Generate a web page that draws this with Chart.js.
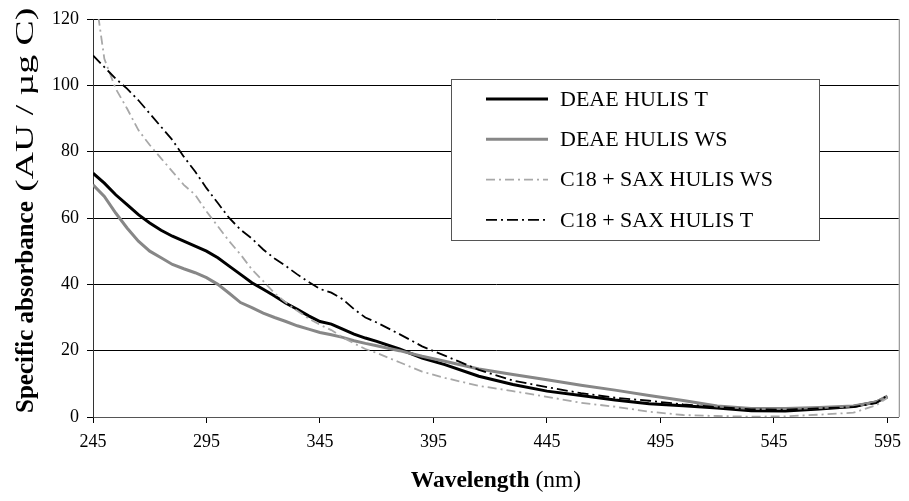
<!DOCTYPE html>
<html>
<head>
<meta charset="utf-8">
<script src="https://cdn.jsdelivr.net/npm/chart.js@4/dist/chart.umd.min.js"></script>
<style>
    html, body { margin: 0; padding: 0; background: #fff; }
    #wrap { width: 909px; height: 501px; position: relative; }
</style>
</head>
<body>
<div id="wrap"><canvas id="absorbance"></canvas></div>
<script>
// Wavelength grid (nm) shared by all four spectra
const wavelengths = [245, 250, 255, 260, 265, 270, 275, 280, 285, 290, 295, 300, 305, 310, 315, 320, 325, 330, 335, 340,
    345, 350, 355, 360, 365, 370, 380, 390, 400, 415, 430, 445, 460, 475, 490, 505, 520, 535, 550, 565, 580, 590, 595];

// Specific absorbance (AU / µg C)
const deaeT = [73.5, 70.5, 67, 64, 61, 58.5, 56.3, 54.5, 53, 51.5, 50, 48, 45.5, 43, 40.5, 38.5, 36.5, 34.3, 32.5, 30.5,
    28.8, 28, 26.5, 25, 23.8, 22.8, 20.5, 17.8, 15.8, 12.3, 9.8, 7.8, 6.5, 5.1, 4, 3.4, 2.7, 1.9, 1.8, 2.4, 3.2, 4.5, 6.1];
const deaeWS = [70, 66.5, 61.5, 57, 53, 50, 48, 46, 44.7, 43.5, 42, 40, 37.3, 34.5, 33, 31.3, 30, 28.8, 27.5, 26.5,
    25.5, 24.8, 24, 23, 22.2, 21.5, 20, 18.3, 16.8, 14.5, 12.8, 11.2, 9.6, 8.1, 6.5, 5, 3.3, 2.6, 2.6, 2.9, 3.3, 4.5, 6.3];
const saxWS = [132, 108, 99, 93, 86.5, 82, 78, 74, 70, 67, 62, 57.5, 53, 49, 44.5, 41, 37.3, 34.5, 32, 29.7,
    27.8, 26.2, 24, 22.2, 20.5, 19.3, 16.5, 13.7, 11.8, 9.4, 7.8, 6.1, 4.3, 3.1, 1.6, 0.6, 0.3, 0.1, 0.2, 0.7, 1.3, 3.5, 5.8];
const saxT = [109, 105.5, 102, 99, 95.5, 91.5, 87.5, 83.5, 78.5, 74, 69, 64.5, 60, 56.5, 53.8, 50.5, 47.8, 45.5, 43, 40.7,
    38.6, 37.5, 35.5, 32.5, 30, 28.5, 25, 21.3, 18.5, 14.2, 11, 9, 7.2, 5.8, 4.9, 3.8, 3, 2.3, 2.2, 2.6, 3, 4.2, 6.5];

const seriesNames = ['DEAE HULIS T', 'DEAE HULIS WS', 'C18 + SAX HULIS WS', 'C18 + SAX HULIS T'];
const xTicks = [245, 295, 345, 395, 445, 495, 545, 595];
const yTicks = [0, 20, 40, 60, 80, 100, 120];

const SERIF = '"Liberation Serif", "Times New Roman", serif';

const styles = [
    { color: '#000000', width: 3, dash: [] },
    { color: '#878787', width: 3, dash: [] },
    { color: '#a8a8a8', width: 1.8, dash: [9, 4, 2, 4] },
    { color: '#000000', width: 1.8, dash: [11, 4, 2, 4] }
];

const toPoints = values => values.map((v, i) => ({ x: wavelengths[i], y: v }));

// Legend box, axis titles and the plot frame are painted by hand
const decorations = {
    id: 'decorations',
    afterDraw(chart) {
        const { ctx, chartArea } = chart;
        ctx.save();

        // right edge of the plot frame
        ctx.strokeStyle = '#808080';
        ctx.lineWidth = 1;
        ctx.beginPath();
        ctx.moveTo(chartArea.right + 0.5, chartArea.top);
        ctx.lineTo(chartArea.right + 0.5, chartArea.bottom);
        ctx.stroke();

        // legend
        const box = { x: 451, y: 79, w: 368, h: 161 };
        ctx.fillStyle = '#fff';
        ctx.fillRect(box.x, box.y, box.w, box.h);
        ctx.strokeStyle = '#555';
        ctx.strokeRect(box.x + 0.5, box.y + 0.5, box.w, box.h);
        ctx.font = '22px ' + SERIF;
        ctx.textBaseline = 'middle';
        seriesNames.forEach((name, i) => {
            const y = 99 + i * 40.3;
            const st = styles[i];
            ctx.strokeStyle = st.color;
            ctx.lineWidth = st.width;
            ctx.setLineDash(st.dash);
            ctx.beginPath();
            ctx.moveTo(486, y);
            ctx.lineTo(548, y);
            ctx.stroke();
            ctx.setLineDash([]);
            ctx.fillStyle = '#000';
            ctx.fillText(name, 560, y + 1);
        });

        // x axis title: bold word, plain unit
        ctx.textBaseline = 'alphabetic';
        const boldFont = 'bold 23.5px ' + SERIF;
        const plainFont = '23.5px ' + SERIF;
        ctx.font = boldFont;
        const w1 = ctx.measureText('Wavelength').width;
        ctx.font = plainFont;
        const w2 = ctx.measureText(' (nm)').width;
        const cx = (chartArea.left + chartArea.right) / 2;
        const x0 = cx - (w1 + w2) / 2;
        ctx.font = boldFont;
        ctx.fillText('Wavelength', x0, 487);
        ctx.font = plainFont;
        ctx.fillText(' (nm)', x0 + w1, 487);

        // y axis title, running bottom to top; the unit is drawn stretched
        // and runs off the top edge
        ctx.translate(33, 413);
        ctx.rotate(-Math.PI / 2);
        ctx.font = 'bold 25px ' + SERIF;
        ctx.fillText('Specific absorbance', 0, 0);
        const w3 = ctx.measureText('Specific absorbance').width;
        ctx.translate(w3, 0);
        ctx.scale(1.45, 1);
        ctx.font = '26px ' + SERIF;
        ctx.fillText(' (AU / µg C)', 0, 0);

        ctx.restore();
    }
};

const chart = new Chart(document.getElementById('absorbance'), {
    type: 'line',
    data: {
        datasets: seriesNames.map((name, i) => ({
            label: name,
            data: toPoints([deaeT, deaeWS, saxWS, saxT][i]),
            borderColor: styles[i].color,
            borderWidth: styles[i].width,
            borderDash: styles[i].dash,
            pointRadius: 0,
            fill: false,
            tension: 0
        })).reverse()
    },
    options: {
        responsive: true,
        maintainAspectRatio: false,
        animation: false,
        layout: { padding: { top: 19, right: 5, left: 0, bottom: 0 } },
        plugins: {
            legend: { display: false },
            tooltip: { enabled: false }
        },
        scales: {
            x: {
                type: 'linear',
                min: 245,
                max: 600,
                afterBuildTicks: scale => { scale.ticks = xTicks.map(v => ({ value: v })); },
                afterFit: scale => { scale.height = 84; },
                grid: { drawOnChartArea: false, drawTicks: true, tickLength: 6, color: '#000' },
                border: { color: '#555', width: 1 },
                ticks: {
                    color: '#000',
                    font: { family: SERIF, size: 18 },
                    padding: 8,
                    maxRotation: 0
                }
            },
            y: {
                min: 0,
                max: 120,
                afterBuildTicks: scale => { scale.ticks = yTicks.map(v => ({ value: v })); },
                afterFit: scale => { scale.width = 93; },
                grid: { color: '#000', tickLength: 6 },
                border: { color: '#333', width: 1 },
                ticks: {
                    color: '#000',
                    font: { family: SERIF, size: 18 },
                    padding: 8
                }
            }
        }
    },
    plugins: [decorations]
});
</script>
</body>
</html>
